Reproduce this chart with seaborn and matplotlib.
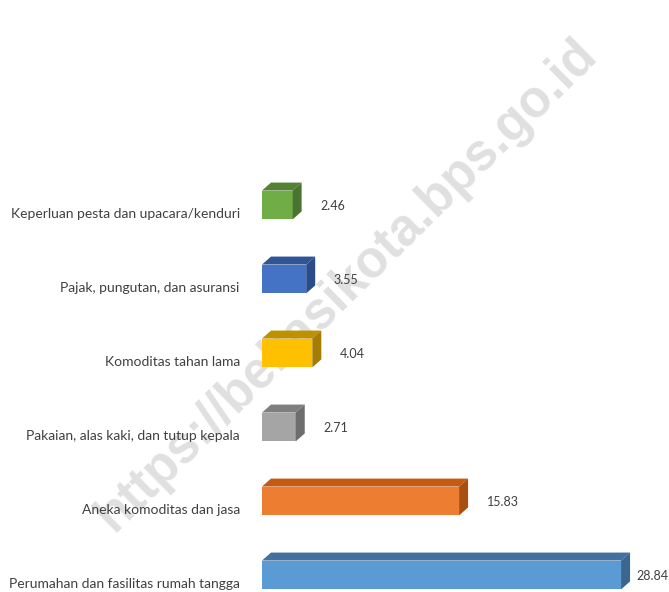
import matplotlib
matplotlib.use("Agg")
import matplotlib.pyplot as plt
import matplotlib.transforms as mtransforms
from matplotlib.patches import Polygon
import seaborn as sns
import pandas as pd

categories = [
    "Keperluan pesta dan upacara/kenduri",
    "Pajak, pungutan, dan asuransi",
    "Komoditas tahan lama",
    "Pakaian, alas kaki, dan tutup kepala",
    "Aneka komoditas dan jasa",
    "Perumahan dan fasilitas rumah tangga",
]
values = [2.46, 3.55, 4.04, 2.71, 15.83, 28.84]
front_colors = ["#70AD47", "#4472C4", "#FFC000", "#A5A5A5", "#ED7D31", "#5B9BD5"]
top_colors = ["#548235", "#2F5597", "#BF9000", "#7F7F7F", "#C55A11", "#41719C"]
side_colors = ["#4A7530", "#2A4C8A", "#A67D00", "#6E6E6E", "#A84E10", "#3A6690"]

sns.set_theme(style="white")
plt.rcParams["font.family"] = ["Lato", "DejaVu Sans"]

df = pd.DataFrame({"cat": categories, "val": values})

fig = plt.figure(figsize=(6.69, 5.92), dpi=100)

fig.text(347 / 669, 1 - 285 / 592, "https://bekasikota.bps.go.id", rotation=44.5,
         ha="center", va="center", fontsize=37, fontweight="bold",
         family=["Liberation Sans", "DejaVu Sans"],
         color="#E0E0E0", zorder=-1)

ax = fig.add_axes([262 / 669, 0, 1 - 262 / 669, 1])
ax.set_facecolor("none")

sns.barplot(data=df, x="val", y="cat", hue="cat", palette=front_colors,
            order=categories, hue_order=categories, width=0.39,
            legend=False, ax=ax, saturation=1, linewidth=0)

xmax = 407 / 12.45
ax.set_xlim(0, xmax)
ax.set_ylim(5.23, -2.77)

# depth of 3D effect in data units
ddx = 9 / 12.45
ddy = -8 / 74.2

for i, p in enumerate(ax.patches[:len(categories)]):
    x0 = p.get_x()
    w = p.get_width()
    y0 = p.get_y()
    h = p.get_height()
    ytop = min(y0, y0 + h)
    ybot = max(y0, y0 + h)
    x1 = x0 + w
    top = Polygon([(x0, ytop), (x1, ytop), (x1 + ddx, ytop + ddy), (x0 + ddx, ytop + ddy)],
                  closed=True, facecolor=top_colors[i], edgecolor="none", zorder=3)
    side = Polygon([(x1, ytop), (x1 + ddx, ytop + ddy), (x1 + ddx, ybot + ddy), (x1, ybot)],
                   closed=True, facecolor=side_colors[i], edgecolor="none", zorder=3)
    ax.add_patch(top)
    ax.add_patch(side)
    lx = min(values[i] + 2.2, 30.05)
    ax.text(lx, (ytop + ybot) / 2 + 0.02, f"{values[i]:.2f}", ha="left", va="center",
            fontsize=9, color="#404040")

for s in ax.spines.values():
    s.set_visible(False)
ax.set_xticks([])
ax.set_xlabel("")
ax.set_ylabel("")
ax.tick_params(axis="y", length=0, pad=16, labelsize=10, labelcolor="#404040")

offset = mtransforms.ScaledTranslation(0, -6 / 72, fig.dpi_scale_trans)
for lab in ax.get_yticklabels():
    lab.set_transform(lab.get_transform() + offset)

fig.savefig("out.png", dpi=100)
